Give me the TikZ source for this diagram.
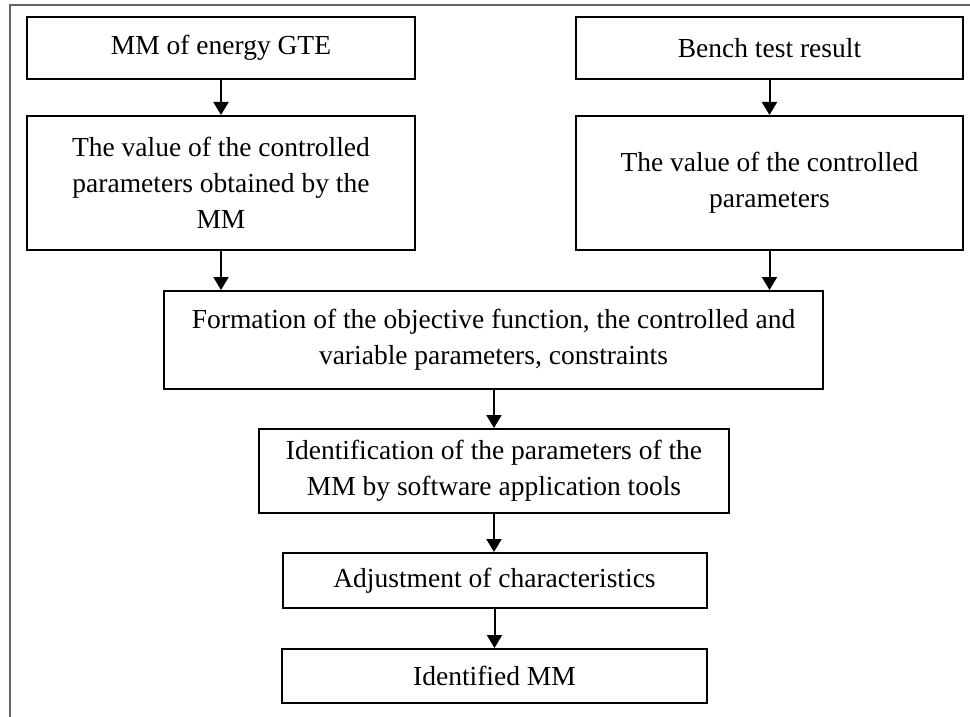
\documentclass[tikz,border=0pt]{standalone}
\usepackage{fontspec}
\setmainfont{Liberation Serif}
\usetikzlibrary{arrows.meta}
\begin{document}
\begin{tikzpicture}[x=1pt,y=-1pt,
  box/.style={draw=black,line width=2pt,rectangle,inner sep=0pt,align=center,
    font=\fontsize{27.5}{36}\selectfont},
  arr/.style={line width=2pt,-{Triangle[width=15pt,length=13pt]}},
  frame/.style={draw=black!60,line width=1.5pt}]
\useasboundingbox (0,0) rectangle (970,717);
\draw[frame] (10,717) -- (10,5) -- (970,5);
\node[box,minimum width=388pt,minimum height=62pt] (b1) at (221,48) {MM of energy GTE};
\node[box,minimum width=388pt,minimum height=134pt] (b2) at (221,183) {The value of the controlled\\parameters obtained by the\\MM};
\node[box,minimum width=387pt,minimum height=62pt] (b3) at (769.5,48) {Bench test result};
\node[box,minimum width=387pt,minimum height=134pt] (b4) at (769.5,183) {The value of the controlled\\parameters};
\node[box,minimum width=659pt,minimum height=98pt] (b5) at (493.5,340) {Formation of the objective function, the controlled and\\variable parameters, constraints};
\node[box,minimum width=470pt,minimum height=84pt] (b6) at (494,471) {Identification of the parameters of the\\MM by software application tools};
\node[box,minimum width=424pt,minimum height=55pt] (b7) at (494.5,580.5) {Adjustment of characteristics};
\node[box,minimum width=425pt,minimum height=54pt] (b8) at (494.5,676) {Identified MM};
\draw[arr] (b1.south) -- (b2.north);
\draw[arr] (b3.south) -- (b4.north);
\draw[arr] (b2.south) -- (b2.south |- b5.north);
\draw[arr] (b4.south) -- (b4.south |- b5.north);
\draw[arr] (b5.south -| b6.north) -- (b6.north);
\draw[arr] (b6.south) -- (b6.south |- b7.north);
\draw[arr] (b7.south) -- (b7.south |- b8.north);
\end{tikzpicture}
\end{document}
